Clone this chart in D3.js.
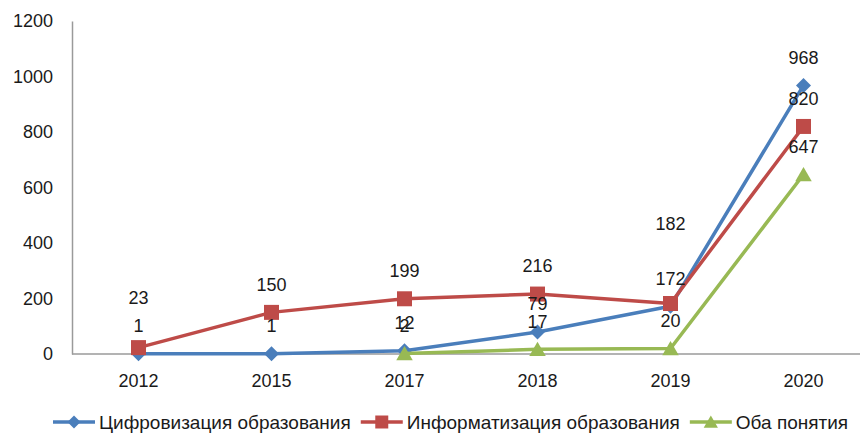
<!DOCTYPE html>
<html><head><meta charset="utf-8">
<script src="https://cdn.jsdelivr.net/npm/d3@7/dist/d3.min.js"></script>
<style>
body{margin:0;background:#fff}
svg text{font-family:"Liberation Sans",Arial,sans-serif;fill:#1a1a1a}
</style></head>
<body><svg id="chart" width="860" height="434"></svg>
<script>
// ---- data ----
const categories = ["2012","2015","2017","2018","2019","2020"];
const seriesNames = ["Цифровизация образования","Информатизация образования","Оба понятия"];
const digitalization = [1, 1, 12, 79, 172, 968];
const informatization = [23, 150, 199, 216, 182, 820];
const bothConcepts = [null, null, 2, 17, 20, 647];
const yTicks = [0, 200, 400, 600, 800, 1000, 1200];
// label lift above point (px), separate from values
const labelLift = [
  [28, 28, 28, 28, 28, 28],
  [50, 28, 28, 28, 80, 28],
  [28, 28, 28, 28, 28, 28]
];

const colors = ["#4A7EBB", "#BE4B48", "#98B954"];
const shapes = ["diamond", "square", "triangle"];

(function draw() {
const svg = d3.select("#chart");
const W = 860;
const mLeft = 72, mRight = 870, mTop = 21, mBottom = 354;

const x = d3.scaleBand().domain(categories).range([mLeft, mRight]);
const y = d3.scaleLinear().domain([0, 1200]).range([mBottom, mTop]);
const cx = c => x(c) + x.bandwidth() / 2;

// axes
const yAxis = svg.append("g").attr("transform", `translate(${mLeft},0)`)
  .call(d3.axisLeft(y).tickValues(yTicks).tickSize(0).tickPadding(19).tickFormat(d3.format("d")));
yAxis.select(".domain").attr("stroke", "#9a9a9a").attr("stroke-width", 1.5);
yAxis.selectAll("text").attr("font-size", 18).attr("font-family", "Liberation Sans, Arial, sans-serif").attr("fill", "#1a1a1a");

const xAxis = svg.append("g").attr("transform", `translate(0,${mBottom})`)
  .call(d3.axisBottom(x).tickSize(0).tickPadding(20));
xAxis.select(".domain").remove();
svg.append("line").attr("x1", mLeft).attr("x2", W).attr("y1", mBottom).attr("y2", mBottom)
  .attr("stroke", "#9a9a9a").attr("stroke-width", 1.5);
xAxis.selectAll("text").attr("font-size", 18).attr("font-family", "Liberation Sans, Arial, sans-serif").attr("fill", "#1a1a1a");

function markerPath(shape, s) {
  if (shape === "diamond") return `M0,${-s}L${s},0L0,${s}L${-s},0Z`;
  if (shape === "square") return `M${-s},${-s}H${s}V${s}H${-s}Z`;
  return `M0,${-s}L${s*1.1},${s*0.9}H${-s*1.1}Z`;
}

const allSeries = [digitalization, informatization, bothConcepts];
const line = d3.line().defined(d => d.v != null).x(d => cx(d.c)).y(d => y(d.v));

allSeries.forEach((vals, si) => {
  const pts = vals.map((v, i) => ({ c: categories[i], v, i }));
  svg.append("path").datum(pts).attr("d", line)
    .attr("fill", "none").attr("stroke", colors[si]).attr("stroke-width", 3.5)
    .attr("stroke-linejoin", "round");
  svg.selectAll(null).data(pts.filter(d => d.v != null)).enter().append("path")
    .attr("d", markerPath(shapes[si], 7.5))
    .attr("transform", d => `translate(${cx(d.c)},${y(d.v)})`)
    .attr("fill", colors[si]);
});

// data labels
allSeries.forEach((vals, si) => {
  const pts = vals.map((v, i) => ({ c: categories[i], v, i })).filter(d => d.v != null);
  svg.selectAll(null).data(pts).enter().append("text")
    .attr("x", d => cx(d.c))
    .attr("y", d => y(d.v) - labelLift[si][d.i])
    .attr("dy", "0.35em")
    .attr("text-anchor", "middle")
    .attr("font-size", 18)
    .text(d => d.v);
});

// legend
const legY = 422;
const leg = svg.append("g").attr("transform", "translate(53,0)");
let lx = 0;
seriesNames.forEach((name, si) => {
  const g = leg.append("g").attr("transform", `translate(${lx},0)`);
  g.append("line").attr("x1", 0).attr("x2", 42).attr("y1", legY).attr("y2", legY)
    .attr("stroke", colors[si]).attr("stroke-width", 3.5);
  g.append("path").attr("d", markerPath(shapes[si], 6.5))
    .attr("transform", `translate(21,${legY})`).attr("fill", colors[si]);
  const t = g.append("text").attr("x", 46).attr("y", legY).attr("dy", "0.35em")
    .attr("font-size", 19).text(name);
  lx += 46 + t.node().getComputedTextLength() + 10;
});
})();
</script>
</body></html>
